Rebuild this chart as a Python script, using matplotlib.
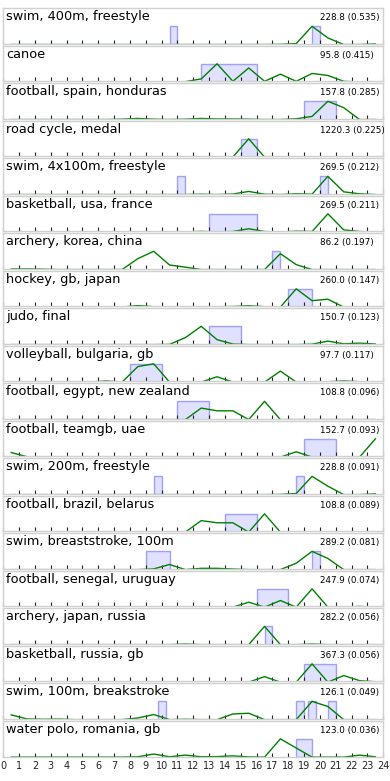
import numpy as np
import matplotlib
matplotlib.use("Agg")
import matplotlib.pyplot as plt

# ---------------- data ----------------
titles = [
    "swim, 400m, freestyle", "canoe", "football, spain, honduras", "road cycle, medal",
    "swim, 4x100m, freestyle", "basketball, usa, france", "archery, korea, china",
    "hockey, gb, japan", "judo, final", "volleyball, bulgaria, gb",
    "football, egypt, new zealand", "football, teamgb, uae", "swim, 200m, freestyle",
    "football, brazil, belarus", "swim, breaststroke, 100m", "football, senegal, uruguay",
    "archery, japan, russia", "basketball, russia, gb", "swim, 100m, breakstroke",
    "water polo, romania, gb",
]
scores = [228.8, 95.8, 157.8, 1220.3, 269.5, 269.5, 86.2, 260.0, 150.7, 97.7,
          108.8, 152.7, 228.8, 108.8, 289.2, 247.9, 282.2, 367.3, 126.1, 123.0]
ratios = [0.535, 0.415, 0.285, 0.225, 0.212, 0.211, 0.197, 0.147, 0.123, 0.117,
          0.096, 0.093, 0.091, 0.089, 0.081, 0.074, 0.056, 0.056, 0.049, 0.036]

hour_labels = [str(h) for h in range(25)]

swim_400m = [0,0,0,0,0,0,0,0,0,0,0,0,0,0,0,0,0,1,5,100,36,0,0,3]
canoe = [0,0,0,0,0,0,0,0,0,0,0,2,17,100,4,77,4,43,4,47,36,4,0,0]
football_spain = [0,0,0,0,0,0,0,2,6,2,0,2,6,3,3,2,0,0,4,17,100,65,0,0]
road_cycle = [0,0,0,0,0,0,0,0,0,0,0,0,0,0,0,100,0,0,0,0,0,0,0,0]
swim_4x100m = [0,0,0,0,0,0,0,0,0,0,0,0,2,0,3,17,2,0,4,2,100,15,4,0]
basketball_usa = [0,0,0,0,0,0,0,0,0,0,0,0,4,0,3,18,3,0,5,3,100,12,3,0]
archery_korea = [3,3,2,0,0,0,0,0,60,100,25,13,0,0,0,0,0,87,27,0,0,0,0,0]
hockey_gb = [0,0,0,0,0,0,0,0,8,2,0,0,0,2,3,7,2,0,100,35,43,0,0,0]
judo_final = [0,0,0,0,0,0,0,0,0,0,1,38,100,27,3,0,0,0,0,2,19,4,8,3]
volleyball_bulgaria = [0,0,0,0,0,0,6,0,85,100,0,0,0,29,0,0,0,60,0,0,2,6,2,0]
football_egypt = [0,0,0,0,0,0,0,0,0,0,0,0,63,48,48,0,100,0,0,0,0,0,0,0]
football_teamgb = [25,2,0,0,0,0,0,0,0,0,0,0,0,0,0,0,0,0,29,0,0,0,0,100]
swim_200m = [0,0,0,0,0,0,0,0,0,0,0,0,0,0,0,0,0,1,6,100,46,0,0,4]
football_brazil = [0,0,0,0,0,0,0,0,0,0,0,0,63,51,51,0,100,0,0,0,0,0,0,0]
swim_breaststroke = [0,0,0,0,0,0,0,0,0,4,28,0,7,7,3,0,0,0,35,100,61,0,0,0]
football_senegal = [0,0,0,0,0,0,0,0,0,0,0,0,0,0,0,27,0,36,0,100,0,0,4,0]
archery_japan = [0,0,0,0,0,0,0,0,0,0,0,3,0,0,0,0,100,0,0,3,0,0,0,0]
basketball_russia = [0,0,0,0,0,0,0,0,0,0,0,0,0,0,0,0,30,0,0,100,0,36,8,2]
swim_100m = [26,4,2,3,0,0,0,0,9,28,0,2,0,0,31,35,0,0,0,100,72,0,0,0]
water_polo = [0,0,0,0,0,0,0,0,2,17,2,11,2,3,7,1,0,100,50,0,0,0,11,2]

series = [swim_400m, canoe, football_spain, road_cycle, swim_4x100m, basketball_usa,
          archery_korea, hockey_gb, judo_final, volleyball_bulgaria, football_egypt,
          football_teamgb, swim_200m, football_brazil, swim_breaststroke,
          football_senegal, archery_japan, basketball_russia, swim_100m, water_polo]

# burst intervals (start hour, end hour)
bursts = [
    [(10.5, 11), (19.5, 20)],
    [(12.5, 16)],
    [(19, 21)],
    [(15, 16)],
    [(11, 11.5), (20, 20.5)],
    [(13, 16)],
    [(17, 17.5)],
    [(18, 19.5)],
    [(13, 15)],
    [(8, 10)],
    [(11, 13)],
    [(19, 21)],
    [(9.5, 10), (18.5, 19)],
    [(14, 16)],
    [(9, 10.5), (19.5, 20)],
    [(16, 18)],
    [(16.5, 17)],
    [(19, 21)],
    [(9.75, 10.25), (18.5, 19), (19.25, 19.75), (20.5, 21)],
    [(18.5, 19.5)],
]

# ---------------- plot ----------------
W, H = 390, 781
fig, axes = plt.subplots(len(titles), 1, figsize=(W / 100, H / 100), dpi=100, sharex=True)
fig.subplots_adjust(left=3.3 / W, right=383.3 / W, top=1 - 8 / H, bottom=1 - 756.5 / H,
                    hspace=0.045)

hours = np.arange(24) + 0.5
n = len(titles)
for k, ax in enumerate(axes):
    vals = np.array(series[k], dtype=float)
    vmax = vals.max()
    starts = [b[0] for b in bursts[k]]
    widths = [b[1] - b[0] for b in bursts[k]]
    ax.bar(starts, [vmax] * len(starts), width=widths, align='edge',
           facecolor=(0.0, 0.0, 1.0, 0.12), edgecolor=(0.25, 0.25, 0.95, 0.45),
           linewidth=1.0, zorder=1)
    ax.plot(hours, vals, color='green', lw=1.0, zorder=2)
    ax.set_xlim(0, 24)
    ax.set_ylim(0.035 * vmax, 2 * vmax)
    ax.set_yticks([])
    ax.set_xticks(range(25))
    ax.set_xticklabels(hour_labels)
    ax.tick_params(axis='x', direction='in', length=3, width=0.8, colors='#222222',
                   labelsize=7, pad=3, labelbottom=(k == n - 1))
    for sp in ax.spines.values():
        sp.set_color('#d0d0d0')
        sp.set_linewidth(1.0)
    ax.text(0.2, 0.655, titles[k], transform=ax.get_xaxis_transform(),
            fontsize=9.3, ha='left', va='baseline', color='black')
    ax.text(20.0, 0.655, f"{scores[k]:.1f} ({ratios[k]:.3f})",
            transform=ax.get_xaxis_transform(),
            fontsize=6.3, ha='left', va='baseline', color='black')

fig.savefig("out.png", dpi=100, facecolor='white')
